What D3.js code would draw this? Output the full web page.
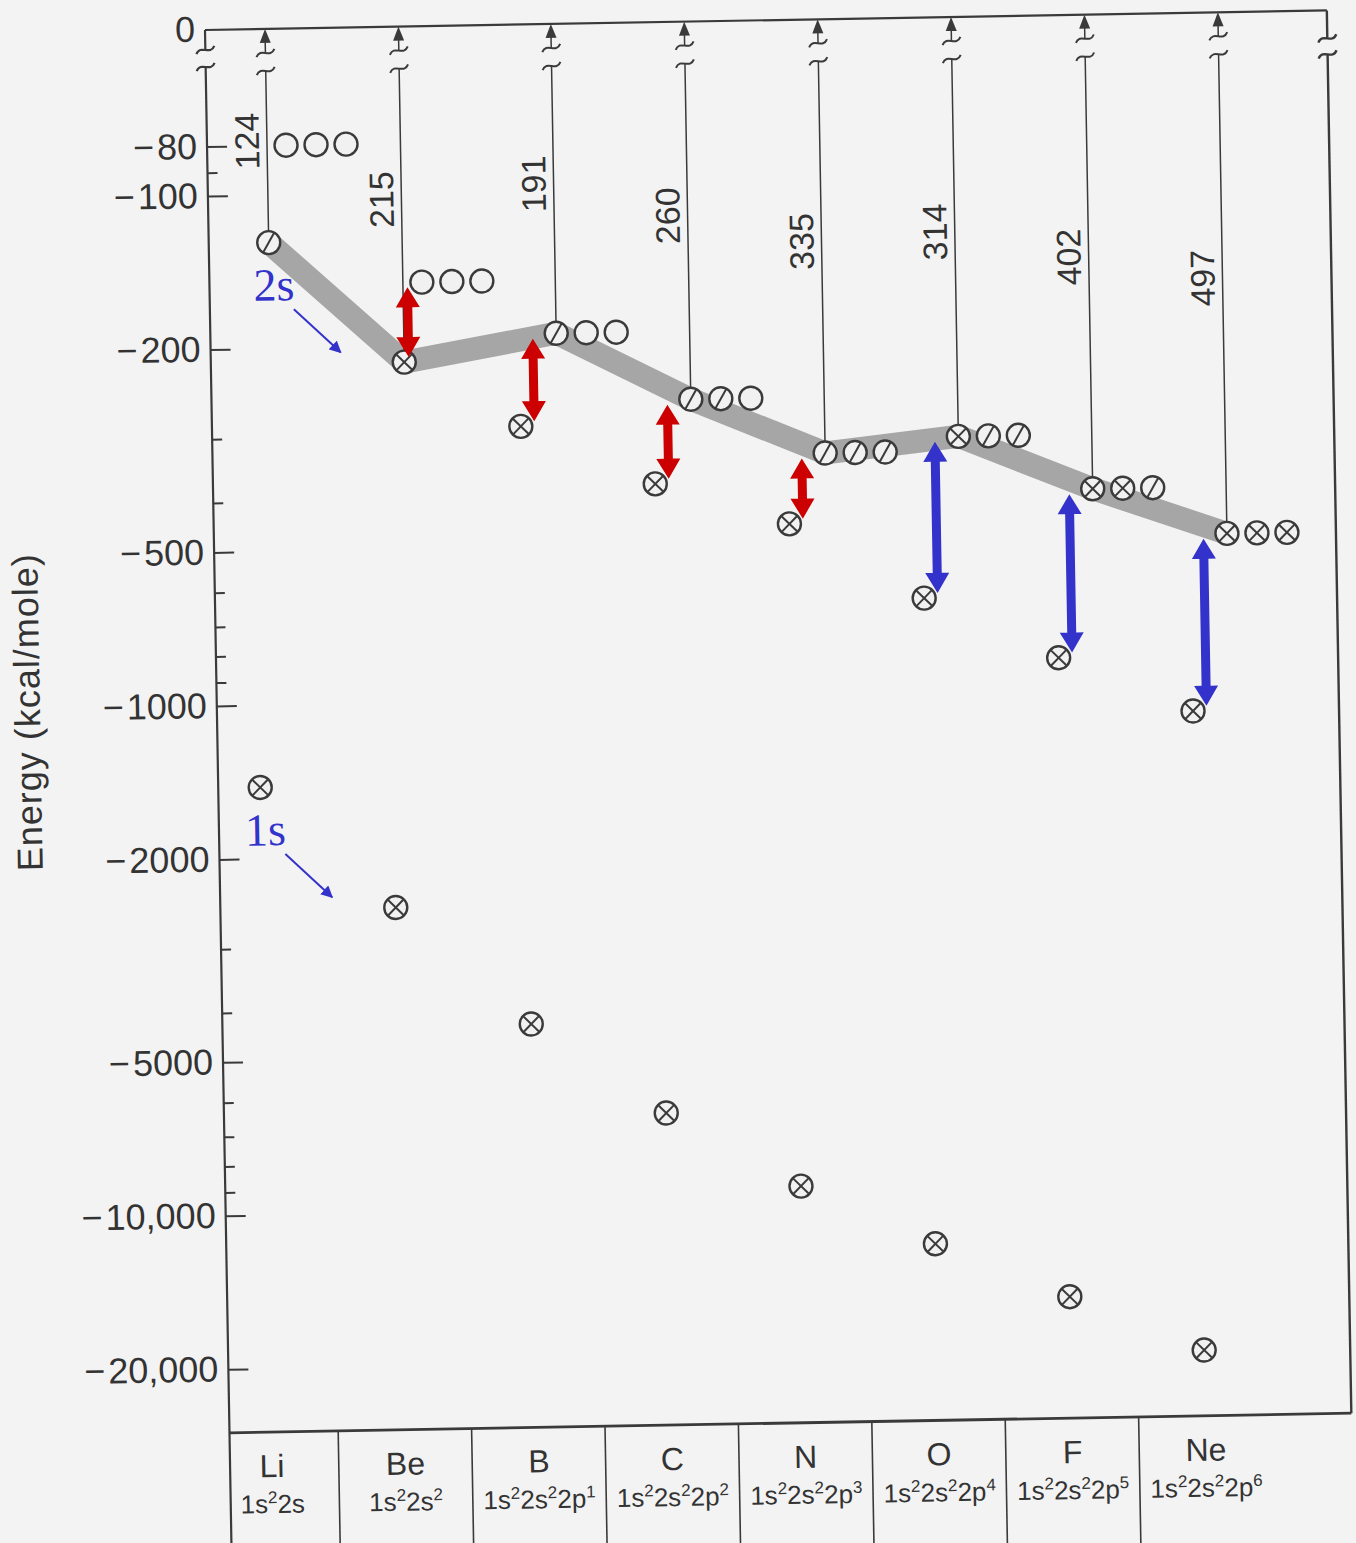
<!DOCTYPE html>
<html>
<head>
<meta charset="utf-8">
<script src="https://cdn.jsdelivr.net/npm/d3@7"></script>
<style>
  html, body { margin: 0; padding: 0; background: #f3f3f3; }
  svg { display: block; font-family: "Liberation Sans", Arial, sans-serif; }
</style>
</head>
<body>
<div id="chart"></div>
<script>
// Elements of the first row, with their ground-state configurations
const elements = ["Li", "Be", "B", "C", "N", "O", "F", "Ne"];
const configs = ["1s2 2s", "1s2 2s2", "1s2 2s2 2p1", "1s2 2s2 2p2",
                 "1s2 2s2 2p3", "1s2 2s2 2p4", "1s2 2s2 2p5", "1s2 2s2 2p6"];

// Orbital energies (kcal/mole)
const e1s = [-1450, -2520, -4310, -6510, -9150, -12000, -15400, -19800];
const e2s = [-124, -215, -290, -380, -460, -650, -860, -1105];
const e2p = [-80, -150, -191, -260, -335, -314, -402, -497];
const ionization = [124, 215, 191, 260, 335, 314, 402, 497];
const electrons2s = [1, 2, 2, 2, 2, 2, 2, 2];
const electrons2p = [0, 0, 1, 2, 3, 4, 5, 6];

// Energy axis ticks
const majorTicks = [-80, -100, -200, -500, -1000, -2000, -5000, -10000, -20000];
const minorTicks = [-90, -300, -400, -600, -700, -800, -900, -3000, -4000, -6000, -7000, -8000, -9000];

const width = 1356, height = 1543;
const frame = { left: 205, top: 30, right: 1327, bottom: 1433 };
const breakY = [54, 72];
const r = 11.5;
const ink = '#3a3a3a';
const red = '#cc0000', blue = '#3333cc';

const svg = d3.select('#chart').append('svg')
    .attr('width', width)
    .attr('height', height)
    .style('background', '#f3f3f3');

// the scan is tilted about one degree
const g = svg.append('g').attr('transform', `rotate(-1,${frame.left},${frame.top})`);

const x = d3.scalePoint().domain(elements).range([247, 1181]);
const y = d3.scaleLog().domain([-80, -20000]).range([146.6, 1369.5]);

const fmt = v => '\u2212\u200a' + (Math.abs(v) >= 10000 ? d3.format(',')(-v) : -v);

// curly marks used for the axis breaks
function tilde(cx, cy) {
    return `M${cx - 9},${cy + 4} C${cx - 5},${cy - 6} ${cx + 5},${cy + 6} ${cx + 9},${cy - 4}`;
}

function brokenLine(cx, y0, y1, b0, b1, w) {
    g.append('line').attr('x1', cx).attr('x2', cx).attr('y1', y0).attr('y2', b0)
        .attr('stroke', ink).attr('stroke-width', w);
    g.append('line').attr('x1', cx).attr('x2', cx).attr('y1', b1).attr('y2', y1)
        .attr('stroke', ink).attr('stroke-width', w);
    [b0, b1].forEach(b => g.append('path').attr('d', tilde(cx, b))
        .attr('fill', 'none').attr('stroke', ink).attr('stroke-width', Math.max(w, 2)));
}

// Frame
g.append('line').attr('x1', frame.left).attr('x2', frame.right)
    .attr('y1', frame.top).attr('y2', frame.top)
    .attr('stroke', ink).attr('stroke-width', 2.2);
g.append('line').attr('x1', frame.left).attr('x2', frame.right)
    .attr('y1', frame.bottom).attr('y2', frame.bottom)
    .attr('stroke', ink).attr('stroke-width', 2.8);
brokenLine(frame.left, frame.top, height + 40, 50, 67, 2.2);
brokenLine(frame.right, frame.top, frame.bottom, breakY[0] + 4, breakY[1] + 2, 2.4);

// Y axis
const axisMajor = d3.axisLeft(y).tickValues(majorTicks).tickSize(-20).tickPadding(10).tickFormat(fmt);
const axisMinor = d3.axisLeft(y).tickValues(minorTicks).tickSize(-10).tickFormat('');
[axisMajor, axisMinor].forEach(a => {
    const ag = g.append('g').attr('transform', `translate(${frame.left},0)`).call(a);
    ag.select('.domain').remove();
    ag.selectAll('line').attr('stroke', ink).attr('stroke-width', 2);
    ag.selectAll('text').attr('font-size', 36).attr('fill', '#333')
        .attr('font-family', '"Liberation Sans", Arial, sans-serif');
});
g.append('text')
    .attr('x', frame.left - 10).attr('y', frame.top).attr('dy', '0.32em')
    .attr('text-anchor', 'end').attr('font-size', 36).attr('fill', '#333')
    .text('0');

g.append('text')
    .attr('transform', `translate(28,709) rotate(-90)`)
    .attr('text-anchor', 'middle').attr('font-size', 36).attr('letter-spacing', 1)
    .attr('fill', '#333')
    .text('Energy (kcal/mole)');

// Positions of each element's orbitals
const rows = elements.map((el, i) => {
    const cx = x(el);
    const homoIs2s = electrons2p[i] === 0;
    const x2s = homoIs2s ? cx + 18 : cx;
    const x2p = cx + 37;
    const homo = homoIs2s ? { x: x2s, e: e2s[i] } : { x: x2p, e: e2p[i] };
    return { el, i, cx, x2s, x2p, homo };
});

// Gray band through the highest occupied level
g.append('path')
    .datum(rows)
    .attr('d', d3.line().x(d => d.homo.x).y(d => y(d.homo.e)))
    .attr('fill', 'none')
    .attr('stroke', '#a6a6a6')
    .attr('stroke-width', 23)
    .attr('stroke-linejoin', 'miter');

// Ionization lines up to zero energy
rows.forEach(d => {
    const hy = y(d.homo.e);
    brokenLine(d.homo.x, frame.top + 10, hy - r, breakY[0], breakY[1], 1.5);
    g.append('path')
        .attr('d', `M${d.homo.x},${frame.top} L${d.homo.x - 5.5},${frame.top + 14} L${d.homo.x + 5.5},${frame.top + 14} Z`)
        .attr('fill', ink);
    g.append('text')
        .attr('transform', `translate(${d.homo.x - 8},${(frame.top + hy) / 2 + 5}) rotate(-90)`)
        .attr('text-anchor', 'middle')
        .attr('font-size', 34)
        .attr('fill', '#333')
        .text(ionization[d.i]);
});

// Orbital symbols: empty, one electron (slash), two electrons (cross)
function orbital(cx, cy, n) {
    const o = g.append('g').attr('transform', `translate(${cx},${cy})`);
    o.append('circle').attr('r', r).attr('fill', '#f1f1f1')
        .attr('stroke', ink).attr('stroke-width', 2.4);
    const seg = (x1, y1, x2, y2) => o.append('line')
        .attr('x1', x1).attr('y1', y1).attr('x2', x2).attr('y2', y2)
        .attr('stroke', ink).attr('stroke-width', 2);
    if (n === 1) {
        seg(-0.5 * r, 0.86 * r, 0.5 * r, -0.86 * r);
    } else if (n === 2) {
        const k = 0.68 * r;
        seg(-k, -k, k, k);
        seg(-k, k, k, -k);
    }
}

function pOccupancy(n) {
    return [0, 1, 2].map(k => (n > k ? 1 : 0) + (n > k + 3 ? 1 : 0));
}

// Double-headed gap arrows between 2s and 2p
function doubleArrow(ax, y1, y2, color) {
    const hw = 12, hl = 20, sw = 4.5;
    const pts = [[ax, y1], [ax + hw, y1 + hl], [ax + sw, y1 + hl], [ax + sw, y2 - hl], [ax + hw, y2 - hl],
                 [ax, y2], [ax - hw, y2 - hl], [ax - sw, y2 - hl], [ax - sw, y1 + hl], [ax - hw, y1 + hl]];
    g.append('polygon').attr('points', pts.map(p => p.join(',')).join(' ')).attr('fill', color);
}

rows.forEach(d => {
    const i = d.i;
    orbital(d.cx, y(e1s[i]), 2);
    orbital(d.x2s, y(e2s[i]), electrons2s[i]);
    pOccupancy(electrons2p[i]).forEach((n, k) => orbital(d.x2p + k * 30, y(e2p[i]), n));
    if (electrons2s[i] === 2) {
        const ax = (d.x2s + d.x2p) / 2 - 5;
        doubleArrow(ax, y(e2p[i]) + 5, y(e2s[i]) - 5, electrons2p[i] > 3 ? blue : red);
    }
});

// "2s" and "1s" call-outs
svg.append('defs').append('marker')
    .attr('id', 'tip').attr('viewBox', '0 0 10 10').attr('refX', 9).attr('refY', 5)
    .attr('markerWidth', 6).attr('markerHeight', 6).attr('orient', 'auto')
    .append('path').attr('d', 'M0,0 L10,5 L0,10 Z').attr('fill', blue);

[{ label: '2s', e: e2s[0], ox: rows[0].x2s }, { label: '1s', e: e1s[0], ox: rows[0].cx }].forEach(c => {
    const cy = y(c.e);
    g.append('text')
        .attr('x', c.ox - 16).attr('y', cy + 58)
        .attr('font-family', '"Liberation Serif", "Times New Roman", serif')
        .attr('font-size', 46).attr('fill', blue)
        .text(c.label);
    g.append('line')
        .attr('x1', c.ox + 24).attr('y1', cy + 67)
        .attr('x2', c.ox + 70).attr('y2', cy + 111)
        .attr('stroke', blue).attr('stroke-width', 2)
        .attr('marker-end', 'url(#tip)');
});

// Element table under the plot
const step = x.step();
elements.slice(0, -1).forEach(el => {
    g.append('line')
        .attr('x1', x(el) + step / 2).attr('x2', x(el) + step / 2)
        .attr('y1', frame.bottom).attr('y2', height + 40)
        .attr('stroke', ink).attr('stroke-width', 1.6);
});

rows.forEach(d => {
    g.append('text')
        .attr('x', d.cx).attr('y', 1478)
        .attr('text-anchor', 'middle').attr('font-size', 32).attr('fill', '#333')
        .text(d.el);
    const t = g.append('text')
        .attr('x', d.cx).attr('y', 1514)
        .attr('text-anchor', 'middle').attr('font-size', 26).attr('fill', '#333');
    let raised = false;
    configs[d.i].split(' ').forEach(tok => {
        t.append('tspan').attr('dy', raised ? 10 : 0).text(tok.slice(0, 2));
        raised = false;
        if (tok.length > 2) {
            t.append('tspan').attr('dy', -10).attr('font-size', 17).text(tok.slice(2));
            raised = true;
        }
    });
});
</script>
</body>
</html>
